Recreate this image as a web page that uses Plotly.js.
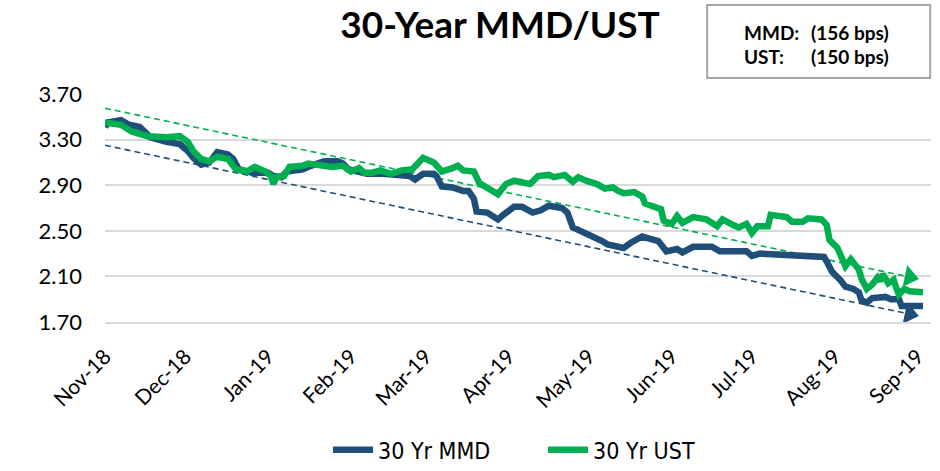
<!DOCTYPE html>
<html><head><meta charset="utf-8">
<script src="https://cdn.plot.ly/plotly-3.0.1.min.js"></script>
<style>html,body{margin:0;padding:0;background:#fff}#chart{width:940px;height:471px}</style>
</head><body><div id="chart"></div>
<script>
const mmdDates = ['2018-11-01','2018-11-02','2018-11-07','2018-11-10','2018-11-14','2018-11-18','2018-11-24','2018-11-29','2018-12-02','2018-12-04','2018-12-07','2018-12-10','2018-12-13','2018-12-17','2018-12-19','2018-12-21','2018-12-26','2019-01-01','2019-01-03','2019-01-06','2019-01-08','2019-01-14','2019-01-17','2019-01-22','2019-01-27','2019-01-29','2019-01-31','2019-02-07','2019-02-13','2019-02-23','2019-02-25','2019-02-28','2019-03-04','2019-03-05','2019-03-07','2019-03-11','2019-03-15','2019-03-17','2019-03-19','2019-03-20','2019-03-24','2019-03-26','2019-03-28','2019-03-30','2019-04-03','2019-04-06','2019-04-10','2019-04-13','2019-04-16','2019-04-21','2019-04-23','2019-04-25','2019-04-28','2019-05-02','2019-05-06','2019-05-08','2019-05-11','2019-05-14','2019-05-17','2019-05-19','2019-05-21','2019-05-24','2019-05-27','2019-05-30','2019-06-03','2019-06-05','2019-06-09','2019-06-16','2019-06-19','2019-06-29','2019-07-01','2019-07-04','2019-07-14','2019-07-19','2019-07-28','2019-07-29','2019-07-31','2019-08-03','2019-08-05','2019-08-08','2019-08-10','2019-08-11','2019-08-13','2019-08-15','2019-08-20','2019-08-22','2019-08-25','2019-08-26','2019-09-03'];
const mmdValues = [3.41,3.45,3.47,3.43,3.41,3.32,3.28,3.26,3.20,3.14,3.08,3.10,3.19,3.17,3.13,3.04,3.01,3.01,2.98,2.97,3.02,3.04,3.07,3.11,3.11,3.09,3.04,3.00,3.00,2.98,2.95,3.00,3.00,2.98,2.89,2.88,2.85,2.85,2.78,2.67,2.66,2.63,2.60,2.64,2.71,2.71,2.66,2.68,2.72,2.70,2.66,2.53,2.50,2.46,2.41,2.38,2.36,2.35,2.40,2.42,2.45,2.43,2.41,2.32,2.34,2.31,2.36,2.36,2.32,2.32,2.28,2.30,2.29,2.28,2.27,2.23,2.14,2.07,2.01,1.99,1.96,1.89,1.87,1.91,1.92,1.90,1.90,1.84,1.84];
const ustDates = ['2018-11-01','2018-11-07','2018-11-11','2018-11-17','2018-11-24','2018-11-29','2018-12-02','2018-12-04','2018-12-07','2018-12-10','2018-12-13','2018-12-17','2018-12-20','2018-12-24','2018-12-27','2018-12-31','2019-01-02','2019-01-03','2019-01-04','2019-01-07','2019-01-09','2019-01-14','2019-01-16','2019-01-19','2019-01-22','2019-01-25','2019-01-29','2019-02-01','2019-02-04','2019-02-06','2019-02-09','2019-02-12','2019-02-16','2019-02-20','2019-02-24','2019-02-28','2019-03-04','2019-03-07','2019-03-11','2019-03-13','2019-03-15','2019-03-19','2019-03-21','2019-03-26','2019-03-28','2019-03-31','2019-04-03','2019-04-05','2019-04-09','2019-04-12','2019-04-16','2019-04-18','2019-04-22','2019-04-25','2019-04-27','2019-04-30','2019-05-04','2019-05-07','2019-05-10','2019-05-12','2019-05-14','2019-05-18','2019-05-21','2019-05-22','2019-05-25','2019-05-28','2019-05-29','2019-06-01','2019-06-03','2019-06-05','2019-06-09','2019-06-14','2019-06-18','2019-06-20','2019-06-24','2019-06-26','2019-06-29','2019-07-01','2019-07-03','2019-07-07','2019-07-08','2019-07-14','2019-07-16','2019-07-20','2019-07-22','2019-07-27','2019-07-29','2019-07-30','2019-08-02','2019-08-04','2019-08-05','2019-08-07','2019-08-10','2019-08-11','2019-08-13','2019-08-15','2019-08-17','2019-08-18','2019-08-19','2019-08-21','2019-08-23','2019-08-24','2019-08-25','2019-08-27','2019-08-29','2019-09-03'];
const ustValues = [3.45,3.43,3.37,3.33,3.32,3.33,3.28,3.20,3.13,3.11,3.15,3.13,3.04,3.02,3.06,3.02,2.98,2.91,2.97,2.98,3.06,3.07,3.09,3.08,3.08,3.06,3.07,3.02,3.05,3.01,3.01,3.03,3.00,3.03,3.04,3.14,3.10,3.02,3.05,3.07,3.03,3.02,2.92,2.85,2.82,2.91,2.94,2.93,2.91,2.98,2.99,2.97,2.99,2.93,2.97,2.94,2.91,2.87,2.88,2.85,2.83,2.84,2.80,2.74,2.72,2.69,2.59,2.56,2.63,2.57,2.62,2.60,2.54,2.60,2.55,2.53,2.56,2.48,2.54,2.54,2.64,2.62,2.58,2.58,2.61,2.60,2.55,2.42,2.35,2.24,2.19,2.25,2.16,2.08,1.99,2.03,2.09,2.06,2.12,2.04,2.07,2.00,1.94,1.99,1.97,1.96];
const trendDates = ['2018-11-01','2019-08-29'];
const mmdTrend = [3.25, 1.77];
const ustTrend = [3.575, 2.095];
const yTicks = [1.70, 2.10, 2.50, 2.90, 3.30, 3.70];
const seriesNames = ['30 Yr MMD', '30 Yr UST'];
const boxLabels = ['MMD:', 'UST:'];
const boxValues = ['(156 bps)', '(150 bps)'];

const BLUE = '#1F4E79', GREEN = '#00B050';
const FONT = 'Lato, "Open Sans", sans-serif';

const traces = [
  {x: trendDates, y: mmdTrend, type: 'scatter', mode: 'lines+markers', showlegend: false, hoverinfo: 'skip',
   line: {color: BLUE, width: 1.6, dash: '6px,4px'},
   marker: {symbol: 'triangle-up', angleref: 'previous', size: [0, 19], color: BLUE, opacity: 1, line: {width: 0}}},
  {x: trendDates, y: ustTrend, type: 'scatter', mode: 'lines+markers', showlegend: false, hoverinfo: 'skip',
   line: {color: GREEN, width: 1.6, dash: '6px,4px'},
   marker: {symbol: 'triangle-up', angleref: 'previous', size: [0, 19], color: GREEN, opacity: 1, line: {width: 0}}},
  {x: mmdDates, y: mmdValues, type: 'scatter', mode: 'lines', name: seriesNames[0],
   line: {color: BLUE, width: 6.5, shape: 'linear'}},
  {x: ustDates, y: ustValues, type: 'scatter', mode: 'lines', name: seriesNames[1],
   line: {color: GREEN, width: 6.5, shape: 'linear'}}
];

const annotations = [];
[0, 1].forEach(i => {
  const yp = [1.2719, 1.1623][i];
  annotations.push({xref: 'paper', yref: 'paper', x: 0.771, y: yp, xanchor: 'left', yanchor: 'middle',
    text: '<b>' + boxLabels[i] + '</b>', showarrow: false, font: {family: FONT, size: 19, color: '#000'}});
  annotations.push({xref: 'paper', yref: 'paper', x: 0.852, y: yp, xanchor: 'left', yanchor: 'middle',
    text: '<b>' + boxValues[i] + '</b>', showarrow: false, font: {family: FONT, size: 19, color: '#000'}});
});

const layout = {
  width: 940, height: 471,
  margin: {l: 105, r: 9, t: 94, b: 149},
  paper_bgcolor: '#fff', plot_bgcolor: '#fff',
  font: {family: FONT, color: '#000'},
  title: {text: '<b>30-Year MMD/UST</b>', xref: 'container', yref: 'container', x: 0.532, y: 0.947,
          xanchor: 'center', yanchor: 'middle', font: {family: FONT, size: 37, color: '#000'}},
  xaxis: {type: 'date', range: ['2018-11-01', '2019-09-06'], dtick: 'M1', tick0: '2018-11-01',
          tickformat: '%b-%y', tickangle: -45, showgrid: false, showline: true, linecolor: '#D9D9D9',
          linewidth: 2, ticks: '', tickfont: {family: FONT, size: 21, color: '#000'}, ticklabelstandoff: 12},
  yaxis: {range: [1.70, 3.70], tickvals: yTicks, tickformat: '.2f', showgrid: true, gridcolor: '#D9D9D9',
          gridwidth: 2, zeroline: false, showline: false, ticks: '',
          tickfont: {family: FONT, size: 22, color: '#000'}, ticklabelstandoff: 22},
  showlegend: true,
  legend: {orientation: 'h', x: 0.27, xanchor: 'left', xref: 'paper', yref: 'container', y: 0.045, yanchor: 'middle',
           font: {family: '"Liberation Sans Narrow", "DejaVu Sans Condensed", sans-serif', size: 23, color: '#000'},
           itemwidth: 40, entrywidth: 160, entrywidthmode: 'pixels', traceorder: 'normal'},
  shapes: [{type: 'rect', xref: 'paper', yref: 'paper', x0: 0.729, x1: 0.999, y0: 1.070, y1: 1.390,
            line: {color: '#A6A6A6', width: 2}, fillcolor: 'rgba(0,0,0,0)'}],
  annotations: annotations
};

Plotly.newPlot('chart', traces, layout, {staticPlot: true, displayModeBar: false});
</script>
</body></html>
